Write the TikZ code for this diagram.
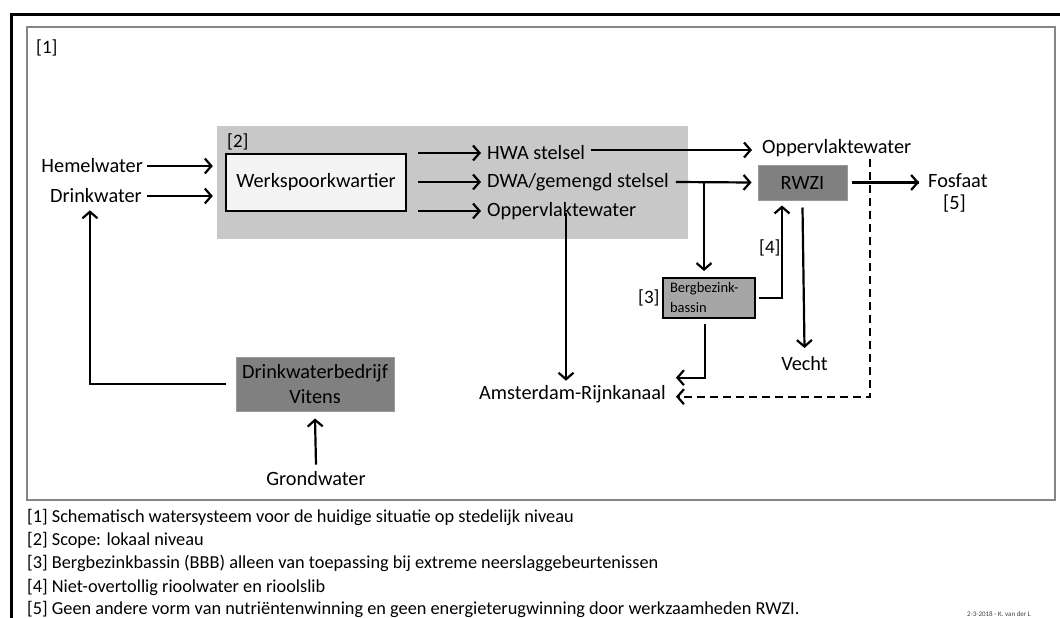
\documentclass[tikz,border=0pt]{standalone}
\usepackage{fontspec}
\setmainfont{Carlito}
\usetikzlibrary{arrows.meta}
\definecolor{scopegray}{HTML}{C8C8C8}
\definecolor{darkbox}{HTML}{808080}
\definecolor{darkedge}{HTML}{9A9A9A}
\definecolor{midbox}{HTML}{A6A6A6}
\definecolor{lightbox}{HTML}{F4F4F4}
\definecolor{framegray}{HTML}{858585}
\begin{document}
\begin{tikzpicture}[x=1pt,y=-1pt,
  lbl/.style={inner sep=0pt, font=\fontsize{20.3}{23}\selectfont},
  tag/.style={inner sep=0pt, anchor=base west, font=\fontsize{19}{22}\selectfont},
  note/.style={inner sep=0pt, anchor=base west, font=\fontsize{18.3}{21}\selectfont},
  arr/.style={line width=2.2pt, -{Straight Barb[length=6.5pt,width=15pt]}},
  dasharr/.style={arr, dash pattern=on 8pt off 5pt},
  plainline/.style={line width=2.2pt},
  darkfill/.style={fill=darkbox, draw=darkedge, line width=1pt, inner sep=0pt, font=\fontsize{20.3}{25}\selectfont, align=center},
]
\useasboundingbox (0,0) rectangle (1060,618);
% frames
\draw[line width=3pt] (11,15) rectangle (1080,640);
\draw[line width=2pt, framegray] (27,27) rectangle (1055,500);
\node[tag] (t1) at (36,53) {[1]};

% scope
\node[fill=scopegray, inner sep=0pt, minimum width=471, minimum height=113] (scope) at (452.5,182.5) {};
\node[tag] (t2) at (227,147) {[2]};
\node[draw=black, line width=2pt, fill=lightbox, inner sep=0pt, minimum width=180, minimum height=57, lbl] (wsk) at (316,182.5) {Werkspoorkwartier};

% inputs
\node[lbl, anchor=east] (hem) at (143,166) {Hemelwater};
\node[lbl, anchor=east] (drink) at (142,196) {Drinkwater};
\draw[arr] ([xshift=4]hem.east) -- ([xshift=-4]hem.east -| scope.west);
\draw[arr] ([xshift=5]drink.east) -- ([xshift=-4]drink.east -| scope.west);

% outputs of Werkspoorkwartier
\node[lbl, anchor=west] (hwa) at (487,153) {HWA stelsel};
\node[lbl, anchor=west] (dwa) at (487,182) {DWA/gemengd stelsel};
\node[lbl, anchor=west] (opp1) at (487,211) {Oppervlaktewater};
\draw[arr] ([xshift=11]wsk.east |- hwa.west) -- ([xshift=-6]hwa.west);
\draw[arr] ([xshift=11]wsk.east |- dwa.west) -- ([xshift=-6]dwa.west);
\draw[arr] ([xshift=11]wsk.east |- opp1.west) -- ([xshift=-6]opp1.west);

% right part
\node[lbl, anchor=west] (oppup) at (762,148) {Oppervlaktewater};
\node[darkfill, minimum width=89, minimum height=35] (rwzi) at (802.5,182.5) {RWZI};
\node[lbl, anchor=west] (fos) at (928,181) {Fosfaat};
\node[lbl] (five) at (954.5,203.5) {[5]};
\node[draw=black, line width=2pt, fill=midbox, minimum width=92, minimum height=40, inner xsep=7pt, inner ysep=0pt, text width=78, align=left, font=\fontsize{14.5}{20}\selectfont] (bbb) at (709,298) {Bergbezink-\\bassin};
\node[tag] (t3) at (638,303) {[3]};
\node[tag] (t4) at (759,253) {[4]};
\node[lbl, anchor=north] (vecht) at (804.5,356) {Vecht};
\node[lbl, anchor=base] (ams) at (572.5,399) {Amsterdam-Rijnkanaal};

\coordinate (hwaend) at (597,150);
\draw[arr] ([xshift=6]hwa.east |- hwaend) -- ([xshift=-10]oppup.west |- hwaend);
\draw[arr] ([xshift=7]dwa.east) -- ([xshift=-6]rwzi.west);
\coordinate (br) at (704,182);
\draw[arr] (br) -- ([yshift=6pt]br |- bbb.north);
\coordinate (dtop) at (870,159);
\draw[plainline] ([xshift=4]rwzi.east) -- ([xshift=-9]fos.west |- rwzi.east);
\draw[arr] ([xshift=-9]fos.west |- rwzi.east) -- ([xshift=-8.9]fos.west |- rwzi.east);
\draw[dasharr] (dtop) |- ([xshift=10,yshift=-3pt]ams.east);
\draw[arr] ([xshift=3]bbb.east) -| ([xshift=-20.5,yshift=-5pt]rwzi.south);
\draw[arr] ([yshift=-7pt]rwzi.south) -- ([yshift=8pt]vecht.north);
\draw[arr] ([xshift=-6.5]opp1.south -| 572.5,0) ++(0,-7) -- ([xshift=-6.5,yshift=4pt]ams.north -| 572.5,0);
\draw[arr] ([xshift=-4,yshift=-5pt]bbb.south) |- ([xshift=10,yshift=16pt]ams.east);

% drinking water company
\node[darkfill, minimum width=158, minimum height=54] (vit) at (315,384) {Drinkwaterbedrijf\\Vitens};
\node[lbl, anchor=base] (grond) at (316,485) {Grondwater};
\draw[arr] ([xshift=-10]vit.west) -| ([xshift=-6,yshift=-7pt]drink.south);
\draw[arr] ([yshift=6pt]grond.north) -- ([yshift=-7pt]vit.south);

% footnotes
\node[note] (n1) at (27,522) {[1] Schematisch watersysteem voor de huidige situatie op stedelijk niveau};
\node[note] (n2) at (27,545) {[2] Scope: lokaal niveau};
\node[note] (n3) at (27,568) {[3] Bergbezinkbassin (BBB) alleen van toepassing bij extreme neerslaggebeurtenissen};
\node[note] (n4) at (27,592) {[4] Niet-overtollig rioolwater en rioolslib};
\node[note] (n5) at (27,614) {[5] Geen andere vorm van nutriëntenwinning en geen energieterugwinning door werkzaamheden RWZI.};
\node[inner sep=0pt, anchor=base west, font=\fontsize{7}{8}\selectfont, text=black!75] (stamp) at (967,616) {2-3-2018 - K. van der L};
\end{tikzpicture}
\end{document}
